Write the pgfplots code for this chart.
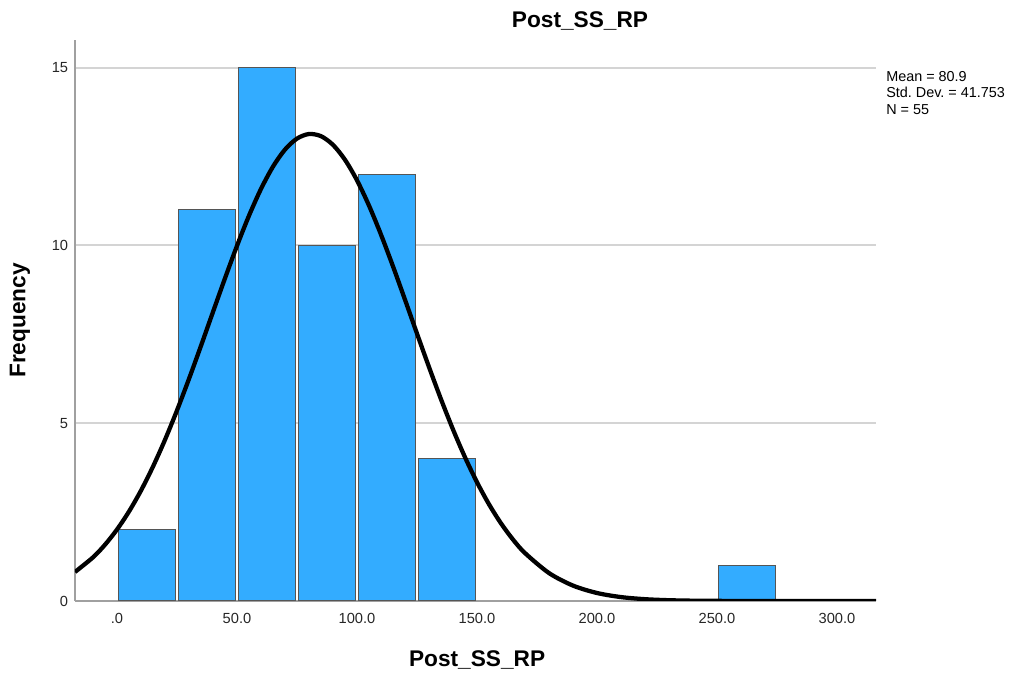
\documentclass[border=0pt]{standalone}
\usepackage{pgfplots}
\pgfplotsset{compat=1.18}
\usepackage{fontspec}
\setmainfont{Liberation Sans}
\frenchspacing

\definecolor{barblue}{RGB}{51,172,255}
\definecolor{baredge}{RGB}{85,85,85}
\definecolor{gridgray}{RGB}{212,212,212}
\definecolor{axisgray}{RGB}{160,160,160}

\begin{document}
\begin{tikzpicture}
\useasboundingbox (-56.25pt,-57pt) rectangle (705.75pt,450.75pt);
\begin{axis}[
  at={(0,0)}, anchor=south west,
  scale only axis, width=600.75pt, height=420.75pt,
  xmin=-17.5, xmax=316.25, ymin=0, ymax=15.78,
  axis lines*=left,
  axis line style={-, draw=axisgray, line width=1.5pt},
  xtick={0,50,...,300},
  xticklabels={.0,50.0,100.0,150.0,200.0,250.0,300.0},
  ytick={0,5,10,15}, yticklabels={0,5,10,15},
  major tick length=0pt,
  ymajorgrids,
  grid style={draw=gridgray, line width=1.5pt},
  tick label style={font=\fontsize{11}{13}\selectfont, text=black!85},
  xticklabel style={inner sep=0pt}, xticklabel shift=9pt,
  yticklabel style={inner sep=0pt}, yticklabel shift=5pt,
  xlabel={Post\_SS\_RP},
  xlabel style={font=\bfseries\fontsize{17}{20}\selectfont,
    at={(axis description cs:0.502,-0.1176)}, anchor=base},
  ylabel={Frequency},
  ylabel style={font=\bfseries\fontsize{17}{20}\selectfont,
    at={(axis description cs:-0.0687,0.5)}, anchor=center},
]
% histogram bins of width 25
\addplot[ybar, bar width=24, bar shift=0pt, fill=barblue, draw=baredge,
  line width=0.75pt] coordinates {
  (12.5,2) (37.5,11) (62.5,15) (87.5,10) (112.5,12) (137.5,4) (262.5,1)};
% fitted normal curve (mean 80.9, sd 41.753, N 55, bin 25)
\addplot[black, line width=3.2pt, smooth, line join=round] coordinates {
  (-17.5,0.817) (-10,1.228) (-5,1.583) (0,2.011) (5,2.517) (10,3.107)
  (15,3.781) (20,4.535) (25,5.362) (30,6.249) (35,7.179) (40,8.132)
  (45,9.078) (50,9.991) (55,10.839) (60,11.591) (65,12.219) (70,12.698)
  (75,13.007) (80,13.135) (85,13.075) (90,12.830) (95,12.410)
  (100,11.833) (105,11.122) (110,10.305) (115,9.412) (120,8.474)
  (125,7.521) (130,6.580) (135,5.675) (140,4.825) (145,4.043)
  (150,3.340) (155,2.720) (160,2.184) (165,1.728) (170,1.348)
  (180,0.786) (190,0.433) (200,0.225) (210,0.110) (220,0.051)
  (230,0.022) (240,0.009) (250,0.004) (260,0.001) (275,0.0) (300,0.0)
  (316.25,0.0)};
\end{axis}
\node[font=\bfseries\fontsize{17}{20}\selectfont, anchor=base]
  at (378.75pt,429.75pt) {Post\_SS\_RP};
\node[anchor=north west, inner sep=0pt, align=left,
  font=\fontsize{10.8}{12.5}\selectfont]
  at (608.25pt,397.5pt) {Mean = 80.9\\Std. Dev. = 41.753\\N = 55};
\end{tikzpicture}
\end{document}
